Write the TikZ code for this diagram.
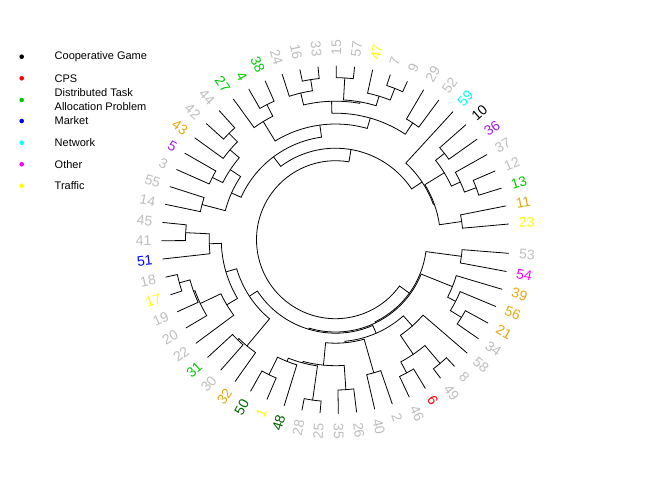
\documentclass[tikz,border=0pt]{standalone}
\usepackage{fontspec}
\setmainfont{Liberation Sans}

\definecolor{labgray}{RGB}{190,190,190}
\definecolor{laborange}{RGB}{229,169,16}
\definecolor{labgreen}{RGB}{0,205,0}
\definecolor{labdkgreen}{RGB}{0,100,0}
\definecolor{labpurple}{RGB}{160,32,240}
\definecolor{labyellow}{RGB}{255,255,0}
\definecolor{labcyan}{RGB}{0,255,255}
\definecolor{labmagenta}{RGB}{255,0,255}
\definecolor{labblue}{RGB}{0,0,255}
\definecolor{labred}{RGB}{255,0,0}

% one merge: angle/radius of child 1, angle/radius of child 2, merge radius
\newcommand{\dmerge}[5]{%
  \draw[dendro] (#1:#2) -- (#1:#5) arc[start angle=#1, end angle=#3, radius=#5] -- (#3:#4);}

\begin{document}
\begin{tikzpicture}[x=1pt, y=1pt,
    dendro/.style={line width=0.8pt, line cap=round},
    leaflab/.style={inner sep=0pt, font=\fontsize{14}{16}\selectfont},
    legdot/.style={circle, inner sep=0pt, minimum size=4.6pt},
    legtext/.style={anchor=west, inner sep=0pt, align=left, font=\fontsize{11}{14}\selectfont}]

    \useasboundingbox (0,0) rectangle (672,480);

    % Legend
    \node[legdot, fill=black] (dcoop) at (21.7,423.3) {};
    \node[legtext] (tcoop) at (54.5,423.3) {Cooperative Game};
    \node[legdot, fill=labred] (dcps) at (21.7,401.7) {};
    \node[legtext] (tcps) at (54.5,401.7) {CPS};
    \node[legdot, fill=labgreen] (ddtap) at (21.7,380) {};
    \node[legtext] (tdtap) at (54.5,380) {Distributed Task\\Allocation Problem};
    \node[legdot, fill=labblue] (dmarket) at (21.7,359) {};
    \node[legtext] (tmarket) at (54.5,359) {Market};
    \node[legdot, fill=labcyan] (dnet) at (21.7,337.3) {};
    \node[legtext] (tnet) at (54.5,337.3) {Network};
    \node[legdot, fill=labmagenta] (dother) at (21.7,315.7) {};
    \node[legtext] (tother) at (54.5,315.7) {Other};
    \node[legdot, fill=labyellow] (dtraffic) at (21.7,294.3) {};
    \node[legtext] (ttraffic) at (54.5,294.3) {Traffic};

    \begin{scope}[shift={(335.5,240.3)}]
        % Leaf labels around the circle
        \foreach \i/\lab/\col in {1/53/labgray, 2/54/labmagenta, 3/39/laborange, 4/56/laborange,
            5/21/laborange, 6/34/labgray, 7/58/labgray, 8/8/labgray, 9/49/labgray, 10/6/labred,
            11/46/labgray, 12/2/labgray, 13/40/labgray, 14/26/labgray, 15/35/labgray, 16/25/labgray,
            17/28/labgray, 18/48/labdkgreen, 19/1/labyellow, 20/50/labdkgreen, 21/32/laborange,
            22/30/labgray, 23/31/labgreen, 24/22/labgray, 25/20/labgray, 26/19/labgray,
            27/17/labyellow, 28/18/labgray, 29/51/labblue, 30/41/labgray, 31/45/labgray,
            32/14/labgray, 33/55/labgray, 34/3/labgray, 35/5/labpurple, 36/43/laborange,
            37/42/labgray, 38/44/labgray, 39/27/labgreen, 40/4/labgreen, 41/38/labgreen,
            42/24/labgray, 43/16/labgray, 44/33/labgray, 45/15/labgray, 46/57/labgray,
            47/47/labyellow, 48/7/labgray, 49/9/labgray, 50/29/labgray, 51/52/labgray,
            52/59/labcyan, 53/10/black, 54/36/labpurple, 55/37/labgray, 56/12/labgray,
            57/13/labgreen, 58/11/laborange, 59/23/labyellow} {
            \pgfmathsetmacro\ang{-4.5-6.04*(\i-1)}
            \pgfmathtruncatemacro\rgt{cos(\ang)>=0 ? 1 : 0}
            \ifnum\rgt=1
                \node[leaflab, text=\col, rotate=\ang, anchor=west] (leaf\lab) at (\ang:184) {\lab};
            \else
                \pgfmathsetmacro\rot{\ang+180}
                \node[leaflab, text=\col, rotate=\rot, anchor=east] (leaf\lab) at (\ang:184) {\lab};
            \fi
        }

        % Upper branch
        \dmerge{-258.18}{173.7}{-264.22}{173.7}{162}
        \dmerge{-252.14}{173.7}{-261.20}{162}{150.7}
        \dmerge{-270.26}{173.7}{-276.30}{173.7}{162}
        \dmerge{-288.38}{173.7}{-294.42}{173.7}{162.5}
        \dmerge{-282.34}{173.7}{-291.40}{162.5}{150}
        \dmerge{-273.28}{162}{-286.87}{150}{140}
        \dmerge{-256.67}{150.7}{-280.075}{140}{138.5}
        \dmerge{-300.46}{173.7}{-306.50}{173.7}{140}
        \dmerge{-268.37}{138.5}{-303.48}{140}{126.5}
        \dmerge{-240.06}{173.7}{-246.10}{173.7}{151.5}
        \dmerge{-234.02}{173.7}{-243.08}{151.5}{138.5}
        \dmerge{-238.55}{138.5}{-285.93}{126.5}{115.7}
        \dmerge{-221.94}{173.7}{-227.98}{173.7}{150.5}
        \dmerge{-215.90}{173.7}{-224.96}{150.5}{138.6}
        \dmerge{-203.82}{173.7}{-209.86}{173.7}{138}
        \dmerge{-206.84}{138}{-220.43}{138.6}{126.4}
        \dmerge{-191.74}{173.7}{-197.78}{173.7}{138}
        \dmerge{-194.76}{138}{-213.635}{126.4}{114}
        \dmerge{-204.20}{114}{-262.24}{115.7}{103.5}
        \dmerge{-318.58}{173.7}{-324.62}{173.7}{139}
        \dmerge{-336.70}{173.7}{-342.74}{173.7}{150}
        \dmerge{-330.66}{173.7}{-339.72}{150}{137.5}
        \dmerge{-321.60}{139}{-335.19}{137.5}{127.7}
        \dmerge{-348.78}{173.7}{-354.82}{173.7}{127.5}
        \dmerge{-328.40}{127.7}{-351.80}{127.5}{105}
        \dmerge{-312.54}{173.7}{-340.10}{105}{104}
        \dmerge{-233.22}{103.5}{-326.32}{104}{91.5}

        % Lower branch
        \dmerge{-161.54}{173.7}{-167.58}{173.7}{162}
        \dmerge{-155.50}{173.7}{-164.56}{162}{151}
        \dmerge{-149.46}{173.7}{-160.03}{151}{149.5}
        \dmerge{-143.42}{173.7}{-154.745}{149.5}{126.7}
        \dmerge{-179.66}{173.7}{-185.70}{173.7}{150}
        \dmerge{-173.62}{173.7}{-182.68}{150}{126.3}
        \dmerge{-149.08}{126.7}{-178.15}{126.3}{114.2}
        \dmerge{-131.34}{173.7}{-137.38}{173.7}{140}
        \dmerge{-125.30}{173.7}{-134.36}{140}{138.3}
        \dmerge{-129.83}{138.3}{-163.615}{114.2}{103}
        \dmerge{-113.22}{173.7}{-119.26}{173.7}{150.5}
        \dmerge{-107.18}{173.7}{-116.24}{150.5}{131}
        \dmerge{-95.10}{173.7}{-101.14}{173.7}{162}
        \dmerge{-98.12}{162}{-111.71}{131}{127.5}
        \dmerge{-83.02}{173.7}{-89.06}{173.7}{150.3}
        \dmerge{-86.04}{150.3}{-104.915}{127.5}{126}
        \dmerge{-70.94}{173.7}{-76.98}{173.7}{138.5}
        \dmerge{-73.96}{138.5}{-95.48}{126}{103.5}
        \dmerge{-46.78}{173.7}{-52.82}{173.7}{162}
        \dmerge{-58.86}{173.7}{-64.90}{173.7}{151}
        \dmerge{-49.80}{162}{-61.88}{151}{138.5}
        \dmerge{-40.74}{173.7}{-55.84}{138.5}{115.5}
        \dmerge{-48.29}{115.5}{-84.72}{103.5}{102}
        \dmerge{-66.505}{102}{-146.72}{103}{93.5}
        \dmerge{-28.66}{173.7}{-34.70}{173.7}{148}
        \dmerge{-22.62}{173.7}{-31.68}{148}{135}
        \dmerge{-16.58}{173.7}{-27.15}{135}{126}
        \dmerge{-21.865}{126}{-106.61}{93.5}{92.3}
        \dmerge{-4.50}{173.7}{-10.54}{173.7}{127}
        \dmerge{-7.52}{127}{-64.24}{92.3}{91.2}

        % Root
        \dmerge{-35.88}{91.2}{-279.77}{91.5}{79}
    \end{scope}
\end{tikzpicture}
\end{document}
